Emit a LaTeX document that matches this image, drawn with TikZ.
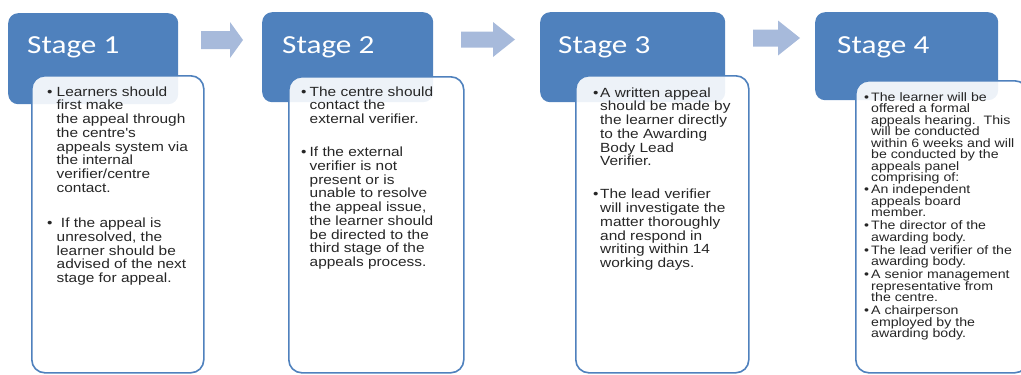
\documentclass[tikz,border=0pt]{standalone}
\usepackage{fontspec}
\usepackage{array}
\newfontfamily\stagefont{Carlito}[FakeStretch=1.2]
\newfontfamily\notefont{Liberation Sans}[FakeStretch=1.16]

\definecolor{stageblue}{RGB}{79,129,189}
\definecolor{arrowblue}{RGB}{167,186,219}
\definecolor{notegray}{RGB}{38,38,38}

% text column whose rows keep the strut pitch
\newcolumntype{L}{>{\setbox0=\hbox\bgroup}l<{\egroup\ht0=0pt\dp0=0pt\box0}}

\tikzset{
  stagebox/.style={fill=stageblue, rounded corners=10pt, inner sep=0pt, anchor=north west},
  notebox/.style={draw=stageblue, line width=1.6pt, fill=white, fill opacity=0.9, rounded corners=13pt, inner sep=0pt, anchor=north west},
  stagehead/.style={text=white, font=\stagefont\fontsize{26}{30}\selectfont, anchor=base west, inner sep=0pt},
  notetext/.style={text=notegray, font=\notefont\fontsize{13.3}{13.7}\selectfont, anchor=north west, inner sep=0pt},
  smallnote/.style={notetext, font=\notefont\fontsize{12.2}{11.5}\selectfont},
  arrowfill/.style={fill=arrowblue}
}

\begin{document}
\begin{tikzpicture}[x=1pt,y=-1pt]
        \useasboundingbox (0,0) rectangle (1021,375);
        % arrows between the stages
        \foreach \xa/\xb/\xc/\ym/\sh/\hh in {201/230/243/40/9/18, 461/493/515/39.5/8/17.5, 753/778/800/38/8.5/17.5}{
        \fill[arrowfill] (\xa,\ym-\sh) -- (\xb,\ym-\sh) -- (\xb,\ym-\hh) -- (\xc,\ym) -- (\xb,\ym+\hh) -- (\xb,\ym+\sh) -- (\xa,\ym+\sh) -- cycle;
        }
        % stage headers
        \node[stagebox, minimum width=170pt, minimum height=91pt] (s1) at (8,13) {};
        \node[stagebox, minimum width=171pt, minimum height=90pt] (s2) at (262,12) {};
        \node[stagebox, minimum width=185pt, minimum height=90pt] (s3) at (540,12) {};
        \node[stagebox, minimum width=183pt, minimum height=88pt] (s4) at (815,12) {};
        \node[stagehead] (s1head) at (27,53) {Stage 1};
        \node[stagehead] (s2head) at (282,53) {Stage 2};
        \node[stagehead] (s3head) at (558,53) {Stage 3};
        \node[stagehead] (s4head) at (837,53) {Stage 4};
        % note boxes
        \node[notebox, minimum width=172pt, minimum height=297pt] (s1note) at (31,75) {};
        \node[notebox, minimum width=175pt, minimum height=296pt] (s2note) at (288,76) {};
        \node[notebox, minimum width=173pt, minimum height=297pt] (s3note) at (575,75) {};
        \node[notebox, minimum width=172pt, minimum height=292pt] (s4note) at (855,80) {};
        \node[notetext] (s1text) at (47,86.5) {\begin{tabular}{@{}p{9.5pt}@{}L@{}}
          \textbullet & Learners should\\
           & first make\\
           & the appeal through\\
           & the centre's\\
           & appeals system via\\
           & the internal\\
           & verifier/centre\\
           & contact.\\[22pt]
          \textbullet & \ If the appeal is\\
           & unresolved, the\\
           & learner should be\\
           & advised of the next\\
           & stage for appeal.
        \end{tabular}};
        \node[notetext] (s2text) at (301,86.5) {\begin{tabular}{@{}p{8.5pt}@{}L@{}}
          \textbullet & The centre should\\
           & contact the\\
           & external verifier.\\[19.5pt]
          \textbullet & If the external\\
           & verifier is not\\
           & present or is\\
           & unable to resolve\\
           & the appeal issue,\\
           & the learner should\\
           & be directed to the\\
           & third stage of the\\
           & appeals process.
        \end{tabular}};
        \node[notetext] (s3text) at (593,87.5) {\begin{tabular}{@{}p{7pt}@{}L@{}}
          \textbullet & A written appeal\\
           & should be made by\\
           & the learner directly\\
           & to the Awarding\\
           & Body Lead\\
           & Verifier.\\[19.5pt]
          \textbullet & The lead verifier\\
           & will investigate the\\
           & matter thoroughly\\
           & and respond in\\
           & writing within 14\\
           & working days.
        \end{tabular}};
        \node[smallnote] (s4text) at (864,93) {\begin{tabular}{@{}p{7pt}@{}L@{}}
          \textbullet & The learner will be\\
           & offered a formal\\
           & appeals hearing.\ \ This\\
           & will be conducted\\
           & within 6 weeks and will\\
           & be conducted by the\\
           & appeals panel\\
           & comprising of:\\[0.5pt]
          \textbullet & An independent\\
           & appeals board\\
           & member.\\[1.5pt]
          \textbullet & The director of the\\
           & awarding body.\\[1.5pt]
          \textbullet & The lead verifier of the\\
           & awarding body.\\[1.5pt]
          \textbullet & A senior management\\
           & representative from\\
           & the centre.\\[1.5pt]
          \textbullet & A chairperson\\
           & employed by the\\
           & awarding body.
        \end{tabular}};
    \end{tikzpicture}
\end{document}
